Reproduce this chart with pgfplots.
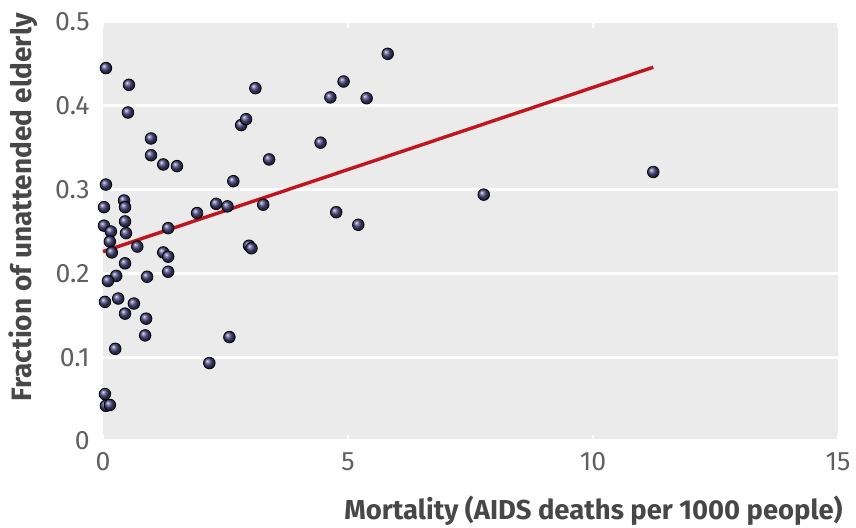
\documentclass[border=0pt]{standalone}
\usepackage{fontspec}
\setmainfont{Fira Sans}
\newfontfamily\labelfont{Fira Sans}
\newfontfamily\tickfont{Fira Sans}
\usepackage{pgfplots}
\pgfplotsset{compat=1.18}
\definecolor{bggray}{HTML}{EBEBEB}
\definecolor{labelgray}{HTML}{474747}
\definecolor{tickgray}{HTML}{606060}
\definecolor{dotblue}{HTML}{45437C}
\definecolor{fitred}{HTML}{C0141E}
\begin{document}
\begin{tikzpicture}
\begin{axis}[
  scale only axis,
  width=367.5pt, height=209.5pt,
  xmin=0, xmax=15, ymin=0, ymax=0.5,
  xtick={0,5,10,15}, ytick={0,0.1,0.2,0.3,0.4,0.5},
  yticklabels={0,0.1,0.2,0.3,0.4,0.5},
  xticklabels={0,5,10,15},
  axis line style={draw=none},
  axis background/.style={fill=bggray},
  ymajorgrids, major grid style={white, line width=1.5pt},
  ytick style={draw=none},
  xtick style={white, line width=1.2pt},
  tick align=inside, major tick length=3pt,
  /pgf/number format/assume math mode=true,
  tick label style={font=\tickfont\fontsize{13.3}{15}\selectfont, text=tickgray, inner sep=0pt},
  xticklabel style={anchor=north, yshift=-5.5pt},
  yticklabel style={anchor=east, xshift=-6.5pt},
  xlabel={Mortality (AIDS deaths per 1000 people)},
  ylabel={Fraction of unattended elderly},
  label style={font=\labelfont\bfseries\fontsize{14}{16}\selectfont, text=labelgray, inner sep=0pt},
  xlabel style={at={(axis description cs:1.0068,-0.167)}, anchor=east, font=\labelfont\bfseries\fontsize{13.7}{16}\selectfont},
  ylabel style={at={(axis description cs:-0.109,1.0215)}, anchor=east, rotate=0},
  clip=false,
]
\addplot[only marks, mark=ball, mark size=2.9pt, ball color=dotblue] coordinates {
(0.06,0.445) (0.53,0.425) (0.51,0.392) (0.98,0.361) (0.98,0.341)
(1.23,0.330) (1.51,0.328) (0.06,0.306) (0.43,0.287) (0.45,0.279)
(0.02,0.279) (0.45,0.262) (0.02,0.257) (0.16,0.250) (0.47,0.248)
(0.14,0.238) (0.18,0.225) (0.70,0.232) (1.33,0.254) (1.23,0.225)
(1.33,0.220) (0.45,0.212) (1.33,0.202) (0.90,0.196) (0.27,0.197)
(0.10,0.191) (0.04,0.166) (0.31,0.170) (0.63,0.164) (0.45,0.152)
(0.88,0.146) (0.86,0.126) (0.25,0.110) (0.04,0.056) (0.06,0.042)
(0.14,0.043) (1.92,0.272) (2.31,0.283) (2.54,0.280) (2.66,0.310)
(2.82,0.377) (2.92,0.384) (3.11,0.421) (3.39,0.336) (3.27,0.282)
(2.98,0.233) (3.03,0.230) (2.58,0.124) (2.17,0.093) (4.44,0.356)
(4.64,0.410) (4.91,0.429) (5.38,0.409) (5.81,0.462) (4.76,0.273)
(5.21,0.258) (7.77,0.294) (11.23,0.321)
};
\addplot[fitred, line width=1.7pt, no marks] coordinates {(0,0.226) (11.23,0.446)};
\end{axis}
\pgfresetboundingbox
\path[use as bounding box] (-51.5pt,-43.5pt) rectangle (376.5pt,220.5pt);
\end{tikzpicture}
\end{document}
